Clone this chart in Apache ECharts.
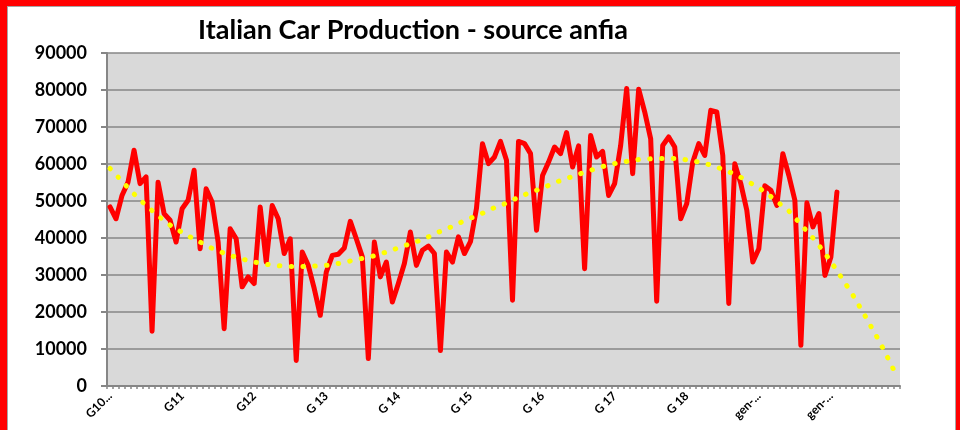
<!DOCTYPE html>
<html><head><meta charset="utf-8">
<script src="https://cdn.jsdelivr.net/npm/echarts@6/dist/echarts.min.js"></script>
<style>
html,body{margin:0;padding:0;background:#fff;}
#frame{position:absolute;left:0;top:0;width:960px;height:430px;background:#ff0000;overflow:hidden}
#inner{position:absolute;left:7px;top:6px;width:947px;height:440px;background:#fff;border:1px solid #a6a6a6}
#chart{position:absolute;left:0;top:0;width:960px;height:430px}
</style></head><body>
<div id="frame"><div id="inner"></div></div>
<div id="chart"></div>
<script>
// Monthly categories Jan 2010 .. Dec 2020
const firstYear = 2010;
const monthCount = 132;
const months = [];
for (let i = 0; i < monthCount; i++) {
  months.push((firstYear + Math.floor(i / 12)) + '-' + String(i % 12 + 1).padStart(2, '0'));
}
const tickLabels = ['G10...', 'G11', 'G12', 'G 13', 'G 14', 'G 15', 'G 16', 'G 17', 'G 18', 'gen-...', 'gen-...'];

const production = [
  48400, 45200, 51500, 55100, 63700, 54700, 56500, 14800, 55100, 46600, 44800, 38900,
  47900, 50200, 58300, 37100, 53300, 49700, 38900, 15500, 42500, 39800, 26800, 29500,
  27700, 48400, 33500, 48800, 45200, 35800, 39800, 6900, 36200, 32600, 26300, 19100,
  30800, 35300, 35600, 37300, 44500, 39800, 34900, 7400, 38900, 29500, 33500, 22700,
  27700, 33100, 41600, 32600, 36700, 37800, 35800, 9600, 36200, 33500, 40300, 35800,
  39000, 48000, 65500, 60100, 61900, 66100, 61000, 23200, 66100, 65500, 62800, 42100,
  56900, 60500, 64600, 62800, 68500, 59200, 64900, 31700, 67700, 61900, 63400, 51500,
  54700, 65000, 80400, 57400, 80200, 74100, 66800, 22900, 65000, 67300, 64600, 45200,
  49300, 60500, 65500, 62300, 74500, 74100, 62300, 22300, 60100, 54700, 47500, 33500,
  37100, 54100, 52900, 48800, 62800, 56900, 50200, 11000, 49500, 43000, 46600, 29900,
  34900, 52400
];

const trend = [
  58800, 57100, 55300, 53600, 51900, 50300, 48800, 47400, 46000, 44700, 43500, 42500,
  41500, 40600, 39700, 38900, 38000, 37200, 36500, 35900, 35300, 34800, 34300, 33900,
  33500, 33200, 32900, 32700, 32500, 32400, 32300, 32300, 32300, 32300, 32400, 32500,
  32600, 32800, 33100, 33400, 33800, 34100, 34500, 34800, 35200, 35700, 36200, 36700,
  37400, 37900, 38500, 39000, 39600, 40300, 41100, 41800, 42500, 43100, 43900, 44700,
  45400, 45900, 46700, 47500, 48200, 48700, 49500, 50200, 51100, 51700, 52300, 52900,
  53600, 54200, 55000, 55500, 56100, 56600, 57200, 57800, 58300, 58800, 59300, 59800,
  60100, 60400, 60700, 61000, 61200, 61300, 61400, 61500, 61500, 61500, 61500, 61400,
  61100, 60900, 60500, 60200, 59700, 59200, 58500, 57900, 57200, 56400, 55500, 54500,
  53500, 52500, 51200, 49900, 48600, 47300, 45500, 43700, 41800, 40000, 38000, 35900,
  33600, 31200, 28700, 26200, 23700, 20800, 18100, 15100, 12300, 9100, 5900, 2500
];

const titleText = 'Italian Car Production - source anfia';
const FONT = 'Lato, "Open Sans", sans-serif';

const chart = echarts.init(document.getElementById('chart'), null, {renderer: 'canvas'});
chart.setOption({
  animation: false,
  backgroundColor: 'transparent',
  graphic: [{
    type: 'text', x: 413, y: 30,
    style: {text: titleText, fontFamily: FONT, fontWeight: 'bold', fontSize: 27,
            fill: '#000', align: 'center', verticalAlign: 'middle'}
  }],
  grid: {left: 107, right: 60, top: 53, bottom: 44, show: true,
         backgroundColor: '#d9d9d9', borderWidth: 0},
  xAxis: {
    type: 'category', data: months, boundaryGap: true,
    axisLine: {show: true, lineStyle: {color: '#868686', width: 2}},
    axisTick: {show: true, interval: 0, length: 3, lineStyle: {color: '#868686', width: 1.5}},
    splitLine: {show: false},
    axisLabel: {
      interval: 11, rotate: 45, margin: 8, color: '#000',
      fontFamily: FONT, fontWeight: 'bold', fontSize: 12,
      formatter: function (v, i) { return tickLabels[Math.round(i / 12)] || ''; }
    }
  },
  yAxis: {
    type: 'value', min: 0, max: 90000, interval: 10000,
    axisLine: {show: true, lineStyle: {color: '#868686', width: 2}},
    axisTick: {show: true, length: 6, lineStyle: {color: '#868686', width: 2}},
    splitLine: {show: true, lineStyle: {color: '#868686', width: 1.5}},
    axisLabel: {margin: 20, color: '#000', fontFamily: FONT, fontWeight: 'bold', fontSize: 18,
                formatter: function (v) { return String(v); }}
  },
  series: [
    {
      type: 'line', data: production, symbol: 'none', z: 2,
      lineStyle: {color: '#ff0000', width: 5, join: 'round', cap: 'round'}
    },
    {
      type: 'line', data: trend, symbol: 'none', z: 3,
      lineStyle: {color: '#ffff00', width: 5, type: [0.5, 11.3], cap: 'round'}
    }
  ]
});
</script>
</body></html>
